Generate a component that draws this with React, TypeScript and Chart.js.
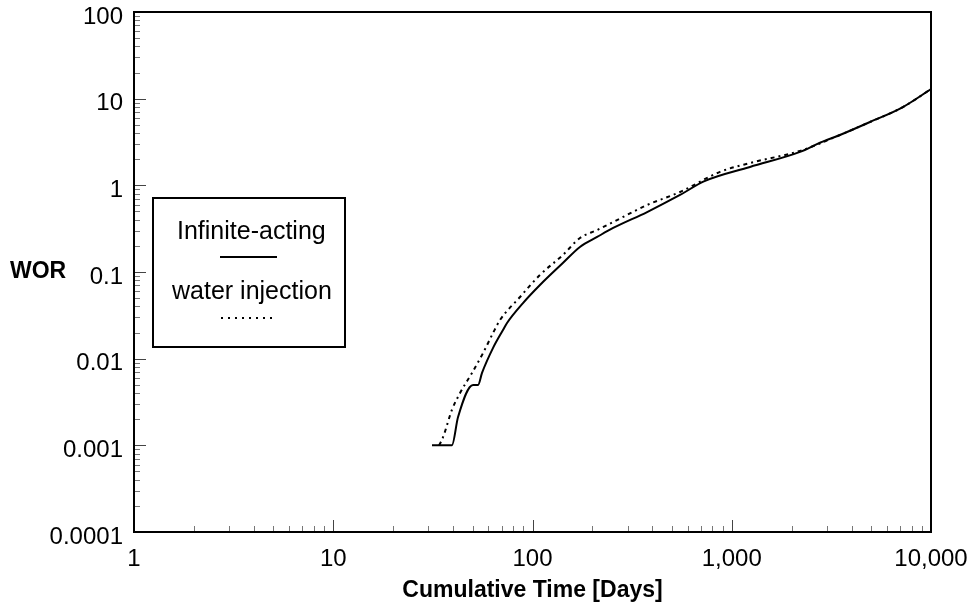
import React, { useEffect, useRef } from "react";
import { Chart, registerables } from "chart.js";

Chart.register(...registerables);

const xTickValues = [1, 10, 100, 1000, 10000];
const xTickLabels = ["1", "10", "100", "1,000", "10,000"];
const yTickValues = [0.0001, 0.001, 0.01, 0.1, 1, 10, 100];
const yTickLabels = ["0.0001", "0.001", "0.01", "0.1", "1", "10", "100"];

const seriesNames = ["Infinite-acting", "water injection"];
const xTitle = "Cumulative Time [Days]";
const yTitle = "WOR";

// Infinite-acting (solid)
const infiniteDays = [31.3, 39.4, 42.3, 50.3, 53.3, 55.8, 63.4, 71.1, 74.5, 89.6, 109, 142, 173, 211, 254, 376, 550, 725, 1235, 2202, 2773, 3491, 4941, 7230, 10000];
const infiniteWOR = [0.001, 0.001, 0.00212, 0.00497, 0.00497, 0.00684, 0.0133, 0.0214, 0.0258, 0.0438, 0.0708, 0.127, 0.1945, 0.2535, 0.322, 0.492, 0.774, 1.11, 1.63, 2.43, 3.1, 3.81, 5.38, 8.0, 12.9];

// water injection (dotted)
const injectionDays = [34, 35.6, 39.4, 43.3, 49.7, 56.5, 63.4, 68.7, 86.6, 109, 142, 173, 211, 254, 376, 550, 873, 1235, 2202, 3491, 4941, 7230, 10000];
const injectionWOR = [0.001, 0.00125, 0.00256, 0.00402, 0.00684, 0.01164, 0.0198, 0.0279, 0.0515, 0.0925, 0.157, 0.247, 0.305, 0.377, 0.593, 0.837, 1.43, 1.81, 2.5, 3.81, 5.38, 8.0, 12.9];

const FONT = "'Liberation Sans', Arial, Helvetica, sans-serif";

function labelFor(v: number, values: number[], labels: string[]) {
  for (let i = 0; i < values.length; i++) {
    if (Math.abs(Math.log10(v) - Math.log10(values[i])) < 1e-6) return labels[i];
  }
  return "";
}

const decorPlugin = {
  id: "decor",
  afterDraw(chart: any) {
    const { ctx, chartArea: a, scales } = chart;
    const xs = scales.x;
    const ys = scales.y;
    ctx.save();
    for (let d = 1; d < 10000; d *= 10) {
      for (let m = 2; m <= 9; m++) {
        const px = Math.round(xs.getPixelForValue(d * m)) + 0.5;
        ctx.strokeStyle = "#777";
        ctx.lineWidth = 1;
        ctx.beginPath();
        ctx.moveTo(px, a.bottom);
        ctx.lineTo(px, a.bottom - 6);
        ctx.stroke();
      }
    }
    xTickValues.forEach((v) => {
      const px = Math.round(xs.getPixelForValue(v)) + 0.5;
      ctx.strokeStyle = "#444";
      ctx.lineWidth = 1;
      ctx.beginPath();
      ctx.moveTo(px, a.bottom);
      ctx.lineTo(px, a.bottom - 12);
      ctx.stroke();
    });
    for (let d = 0.0001; d < 99; d *= 10) {
      for (let m = 2; m <= 9; m++) {
        const py = Math.round(ys.getPixelForValue(d * m)) + 0.5;
        ctx.strokeStyle = "#777";
        ctx.lineWidth = 1;
        ctx.beginPath();
        ctx.moveTo(a.left, py);
        ctx.lineTo(a.left + 6, py);
        ctx.stroke();
      }
    }
    yTickValues.forEach((v) => {
      const py = Math.round(ys.getPixelForValue(v)) + 0.5;
      ctx.strokeStyle = "#444";
      ctx.lineWidth = 1;
      ctx.beginPath();
      ctx.moveTo(a.left, py);
      ctx.lineTo(a.left + 12, py);
      ctx.stroke();
    });
    ctx.strokeStyle = "#000";
    ctx.lineWidth = 2;
    ctx.setLineDash([]);
    ctx.strokeRect(a.left, a.top, a.right - a.left, a.bottom - a.top);

    ctx.fillStyle = "#000";
    ctx.font = `bold 23px ${FONT}`;
    ctx.textAlign = "left";
    ctx.textBaseline = "middle";
    ctx.fillText(yTitle, 10, (a.top + a.bottom) / 2);

    const lx = 153, ly = 198, lw = 192, lh = 149;
    ctx.fillStyle = "#fff";
    ctx.fillRect(lx, ly, lw, lh);
    ctx.strokeStyle = "#000";
    ctx.lineWidth = 2;
    ctx.strokeRect(lx, ly, lw, lh);
    ctx.fillStyle = "#000";
    ctx.font = `25px ${FONT}`;
    ctx.textBaseline = "middle";
    ctx.fillText(seriesNames[0], 177, 232);
    ctx.fillText(seriesNames[1], 172, 292);
    ctx.lineWidth = 2;
    ctx.beginPath();
    ctx.moveTo(220, 257);
    ctx.lineTo(277, 257);
    ctx.stroke();
    ctx.setLineDash([2, 5]);
    ctx.beginPath();
    ctx.moveTo(221, 318);
    ctx.lineTo(276, 318);
    ctx.stroke();
    ctx.restore();
  },
};

export default function App() {
  const ref = useRef<HTMLCanvasElement | null>(null);
  useEffect(() => {
    document.body.style.margin = "0";
    if (!ref.current) return;
    const chart = new Chart(ref.current, {
      type: "line",
      data: {
        datasets: [
          {
            label: seriesNames[0],
            data: infiniteDays.map((d, i) => ({ x: d, y: infiniteWOR[i] })),
            borderColor: "#000",
            borderWidth: 2,
            pointRadius: 0,
            fill: false,
            cubicInterpolationMode: "monotone",
          },
          {
            label: seriesNames[1],
            data: injectionDays.map((d, i) => ({ x: d, y: injectionWOR[i] })),
            borderColor: "#000",
            borderWidth: 2,
            borderDash: [4, 4, 2, 4],
            pointRadius: 0,
            fill: false,
            cubicInterpolationMode: "monotone",
          },
        ],
      },
      options: {
        animation: false,
        responsive: false,
        devicePixelRatio: 1,
        layout: { padding: { top: 12, right: 46, left: 0, bottom: 0 } },
        plugins: { legend: { display: false }, tooltip: { enabled: false } },
        scales: {
          x: {
            type: "logarithmic",
            position: "bottom",
            min: 1,
            max: 10000,
            afterBuildTicks: (s: any) => {
              s.ticks = xTickValues.map((v) => ({ value: v }));
            },
            afterFit: (s: any) => {
              s.height = 75;
              s.paddingLeft = 0;
              s.paddingRight = 0;
              s.paddingTop = 0;
              s.paddingBottom = 0;
            },
            grid: { display: false, drawTicks: false },
            border: { display: false },
            ticks: {
              autoSkip: false,
              maxRotation: 0,
              minRotation: 0,
              color: "#000",
              padding: 13,
              font: { family: FONT, size: 24 },
              callback: (v: any) => labelFor(Number(v), xTickValues, xTickLabels),
            },
            title: {
              display: true,
              text: xTitle,
              color: "#000",
              font: { family: FONT, size: 23, weight: "bold" },
              padding: { top: 0, bottom: 3 },
            },
          },
          y: {
            type: "logarithmic",
            position: "left",
            min: 0.0001,
            max: 100,
            afterBuildTicks: (s: any) => {
              s.ticks = yTickValues.map((v) => ({ value: v }));
            },
            afterFit: (s: any) => {
              s.width = 134;
              s.paddingLeft = 0;
              s.paddingRight = 0;
              s.paddingTop = 0;
              s.paddingBottom = 0;
            },
            grid: { display: false, drawTicks: false },
            border: { display: false },
            ticks: {
              autoSkip: false,
              color: "#000",
              padding: 11,
              labelOffset: 5,
              font: { family: FONT, size: 24 },
              callback: (v: any) => labelFor(Number(v), yTickValues, yTickLabels),
            },
          },
        },
      },
      plugins: [decorPlugin],
    } as any);
    return () => chart.destroy();
  }, []);
  return (
    <div style={{ width: 977, height: 607, background: "#fff" }}>
      <canvas ref={ref} width={977} height={607} style={{ display: "block" }} />
    </div>
  );
}
